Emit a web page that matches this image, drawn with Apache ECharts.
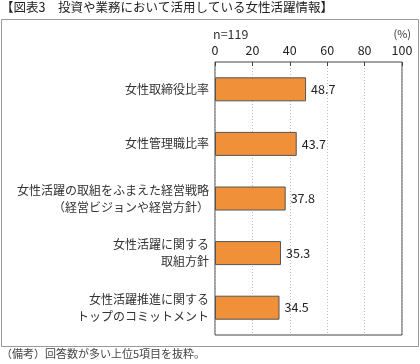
<!DOCTYPE html>
<html><head><meta charset="utf-8">
<script src="https://cdn.jsdelivr.net/npm/echarts@6/dist/echarts.min.js"></script>
<style>html,body{margin:0;padding:0;background:#fff}#c{width:420px;height:364px}</style>
</head><body><div id="c"></div>
<script>
const categories = ['女性取締役比率','女性管理職比率','女性活躍の取組をふまえた経営戦略\n（経営ビジョンや経営方針）','女性活躍に関する\n取組方針','女性活躍推進に関する\nトップのコミットメント'];
const values = [48.7, 43.7, 37.8, 35.3, 34.5];
const xTicks = [0, 20, 40, 60, 80, 100];
const titleText = '【図表3　投資や業務において活用している女性活躍情報】';
const noteText = '（備考）回答数が多い上位5項目を抜粋。';
const nText = 'n=119';
const unitText = '(%)';
const FF = '"Noto Sans CJK JP", sans-serif';
const chart = echarts.init(document.getElementById('c'), null, {renderer:'canvas'});
chart.setOption({
  animation:false,
  textStyle:{fontFamily:FF},
  graphic:[
    {type:'text', left:1, top:1, style:{text:titleText, fontSize:12.5, fill:'#222', fontFamily:FF}},
    {type:'rect', shape:{x:1.5, y:19.5, width:417, height:327}, style:{fill:'none', stroke:'#999', lineWidth:1}},
    {type:'text', left:213, top:28, style:{text:nText, fontSize:12.5, fill:'#333', fontFamily:FF}},
    {type:'text', right:9, top:28, style:{text:unitText, fontSize:11, fill:'#333', fontFamily:FF}},
    {type:'text', left:1, top:348, style:{text:noteText, fontSize:11, fill:'#444', fontFamily:FF}}
  ],
  grid:{left:215, right:18, top:62, bottom:29, show:true, borderColor:'#444', borderWidth:1, backgroundColor:'transparent'},
  xAxis:{type:'value', position:'top', min:0, max:100, interval:20,
    axisLine:{show:false},
    axisTick:{show:true, inside:true, length:4, lineStyle:{color:'#444'}},
    axisLabel:{fontSize:12.5, color:'#222', margin:5, fontFamily:FF,
      formatter:v=> xTicks.includes(v)? String(v):''},
    splitLine:{show:true, lineStyle:{type:[1,2], color:'#bbb'}}
  },
  yAxis:{type:'category', data:categories, inverse:true,
    axisLine:{show:false}, axisTick:{show:false},
    axisLabel:{fontSize:12, color:'#333', margin:6, lineHeight:17, align:'right', fontFamily:FF}
  },
  series:[{type:'bar', data:values, barWidth:24,
    itemStyle:{color:'#F0913A', borderColor:'#555', borderWidth:1},
    label:{show:true, position:'right', distance:5, fontSize:12.5, color:'#222', fontFamily:FF,
      formatter:p=>p.value.toFixed(1)}
  }]
});
</script></body></html>
